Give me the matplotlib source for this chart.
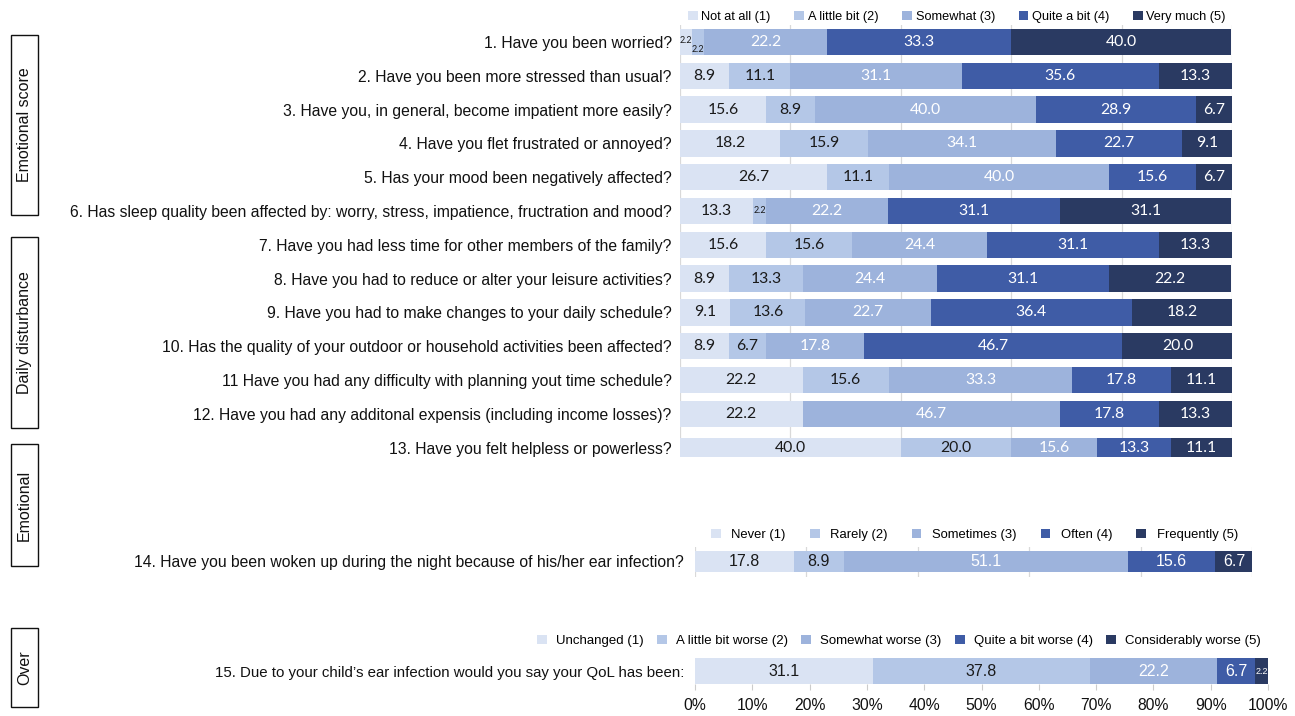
import matplotlib
matplotlib.use("Agg")
import matplotlib.pyplot as plt
from matplotlib.patches import Rectangle
import numpy as np

# ---------------- data ----------------
questions_top = [
    "1. Have you been worried?",
    "2. Have you been more stressed than usual?",
    "3. Have you, in general, become impatient more easily?",
    "4. Have you flet frustrated or annoyed?",
    "5. Has your mood been negatively affected?",
    "6. Has sleep quality been affected by: worry, stress, impatience, fructration and mood?",
    "7. Have you had less time for other members of the family?",
    "8. Have you had to reduce or alter your leisure activities?",
    "9. Have you had to make changes to your daily schedule?",
    "10. Has the quality of your outdoor or household activities been affected?",
    "11 Have you had any difficulty with planning yout time schedule?",
    "12. Have you had any additonal expensis (including income losses)?",
    "13. Have you felt helpless or powerless?",
]
legend_top = ["Not at all (1)", "A little bit (2)", "Somewhat (3)", "Quite a bit (4)", "Very much (5)"]
not_at_all = [2.2, 8.9, 15.6, 18.2, 26.7, 13.3, 15.6, 8.9, 9.1, 8.9, 22.2, 22.2, 40.0]
a_little   = [2.2, 11.1, 8.9, 15.9, 11.1, 2.2, 15.6, 13.3, 13.6, 6.7, 15.6, 0.0, 20.0]
somewhat   = [22.2, 31.1, 40.0, 34.1, 40.0, 22.2, 24.4, 24.4, 22.7, 17.8, 33.3, 46.7, 15.6]
quite_bit  = [33.3, 35.6, 28.9, 22.7, 15.6, 31.1, 31.1, 31.1, 36.4, 46.7, 17.8, 17.8, 13.3]
very_much  = [40.0, 13.3, 6.7, 9.1, 6.7, 31.1, 13.3, 22.2, 18.2, 20.0, 11.1, 13.3, 11.1]

question_mid = "14. Have you been woken up during the night because of his/her ear infection?"
legend_mid = ["Never (1)", "Rarely (2)", "Sometimes (3)", "Often (4)", "Frequently (5)"]
values_mid = [17.8, 8.9, 51.1, 15.6, 6.7]

question_bot = "15. Due to your child\u2019s ear infection would you say your QoL has been:"
legend_bot = ["Unchanged (1)", "A little bit worse (2)", "Somewhat worse (3)",
              "Quite a bit worse (4)", "Considerably worse (5)"]
values_bot = [31.1, 37.8, 22.2, 6.7, 2.2]

x_ticks = [0, 10, 20, 30, 40, 50, 60, 70, 80, 90, 100]
x_tick_labels = ["0%", "10%", "20%", "30%", "40%", "50%", "60%", "70%", "80%", "90%", "100%"]

section_labels = ["Emotional score", "Daily disturbance", "Emotional", "Over"]

# ---------------- style ----------------
colors = ["#dae3f3", "#b4c7e7", "#9db3dc", "#3f5ca6", "#2a3a62"]
text_colors = ["#1a1a1a", "#1a1a1a", "white", "white", "white"]
SANS = "Liberation Sans"
VALFONT = "Lato"
QSIZE = 11.3

W, H = 1295, 716
fig = plt.figure(figsize=(W / 100, H / 100), dpi=100)
fig.patch.set_facecolor("white")


def px_axes(x0, x1, y0, y1):
    return fig.add_axes([x0 / W, 1 - y1 / H, (x1 - x0) / W, (y1 - y0) / H])


# ---------------- top section ----------------
ax1 = px_axes(680, 1232, 25.1, 457)
n = len(questions_top)
ypos = np.arange(n)
heights = [0.78] * (n - 1) + [0.56]
series_top = [not_at_all, a_little, somewhat, quite_bit, very_much]

left = np.zeros(n)
for k, vals in enumerate(series_top):
    vals = np.asarray(vals, dtype=float)
    ax1.barh(ypos, vals, left=left, height=heights, color=colors[k],
             edgecolor="none", zorder=2, label=legend_top[k])
    for i, v in enumerate(vals):
        if v <= 0:
            continue
        cx = left[i] + v / 2
        cy = ypos[i]
        fs = 11.3
        if v < 3:
            fs = 6.5
            if i == 0:
                cy = cy - 0.05 if k == 0 else cy + 0.22
        ax1.text(cx, cy, f"{v:.1f}", ha="center", va="center",
                 color=text_colors[k], fontsize=fs, family=VALFONT, zorder=3)
    left = left + vals

ax1.set_xlim(0, 100)
ax1.set_ylim(12.28, -0.5)
ax1.set_yticks(ypos)
ax1.set_yticklabels(questions_top, fontsize=QSIZE, family=SANS, color="#111111")
ax1.tick_params(axis="y", length=0, pad=6)
ax1.set_xticks([0, 20, 40, 60, 80, 100])
ax1.tick_params(axis="x", length=0, labelbottom=False)
ax1.grid(axis="x", color="#d9d9d9", linewidth=0.9, zorder=0)
ax1.set_axisbelow(True)
for s in ax1.spines.values():
    s.set_visible(False)
ax1.legend(loc="center left", bbox_to_anchor=((688 - 680) / 552, 1 + (25.1 - 17) / 431.9),
           ncol=5, frameon=False, prop={"family": SANS, "size": 9.2},
           handlelength=0.75, handleheight=0.75, handletextpad=0.3,
           columnspacing=1.85, borderaxespad=0.0, borderpad=0.0)

# ---------------- middle section ----------------
ax2 = px_axes(695, 1252, 546.5, 576.5)
left = 0.0
for k, v in enumerate(values_mid):
    ax2.barh([0], [v], left=left, height=0.7, color=colors[k], edgecolor="none",
             zorder=2, label=legend_mid[k])
    ax2.text(left + v / 2, 0, f"{v:.1f}", ha="center", va="center",
             color=text_colors[k], fontsize=11.5, family=SANS, zorder=3)
    left += v
ax2.set_xlim(0, 100)
ax2.set_ylim(0.5, -0.5)
ax2.set_yticks([0])
ax2.set_yticklabels([question_mid], fontsize=QSIZE, family=SANS, color="#111111")
ax2.tick_params(axis="y", length=0, pad=8)
ax2.set_xticks([0, 20, 40, 60, 80, 100])
ax2.tick_params(axis="x", length=0, labelbottom=False)
ax2.grid(axis="x", color="#d9d9d9", linewidth=0.9, zorder=0)
ax2.set_axisbelow(True)
for s in ax2.spines.values():
    s.set_visible(False)
ax2.legend(loc="center left", bbox_to_anchor=((711 - 695) / 557, 1 + (546.5 - 535) / 30),
           ncol=5, frameon=False, prop={"family": SANS, "size": 9.4},
           handlelength=0.75, handleheight=0.75, handletextpad=0.8,
           columnspacing=1.85, borderaxespad=0.0, borderpad=0.0)

# ---------------- bottom section ----------------
ax3 = px_axes(695, 1268, 655, 684)
left = 0.0
for k, v in enumerate(values_bot):
    ax3.barh([0], [v], left=left, height=0.8, color=colors[k], edgecolor="none",
             zorder=2, label=legend_bot[k])
    ax3.text(left + v / 2, 0, f"{v:.1f}", ha="center", va="center",
             color=text_colors[k], fontsize=11.5 if v >= 3 else 6.5, family=SANS, zorder=3)
    left += v
ax3.set_xlim(0, 100)
ax3.set_ylim(-0.4, 0.5)
ax3.set_yticks([0])
ax3.set_yticklabels([question_bot], fontsize=10.8, family=SANS, color="#111111")
ax3.tick_params(axis="y", length=0, pad=8)
ax3.set_xticks(x_ticks)
ax3.set_xticklabels(x_tick_labels, fontsize=11.3, family=SANS, color="#111111")
ax3.tick_params(axis="x", length=4, color="#cccccc", width=0.8, pad=6)
for s in ax3.spines.values():
    s.set_visible(False)
ax3.legend(loc="center left", bbox_to_anchor=((537 - 695) / 573, 1 + (655 - 641) / 29),
           ncol=5, frameon=False, prop={"family": SANS, "size": 9.5},
           handlelength=0.75, handleheight=0.75, handletextpad=0.7,
           columnspacing=1.0, borderaxespad=0.0, borderpad=0.0)

# ---------------- section boxes ----------------
boxes = [(35, 215), (237, 428), (444, 566), (628, 707)]
for (y0, y1), lab in zip(boxes, section_labels):
    fig.patches.append(Rectangle((11 / W, 1 - y1 / H), 27 / W, (y1 - y0) / H,
                                 transform=fig.transFigure, facecolor="white",
                                 edgecolor="#111111", linewidth=1.0))
    fig.text(24.5 / W, 1 - (y0 + y1) / 2 / H, lab, rotation=90, ha="center", va="center",
             fontsize=11.5, family=SANS, color="#111111")

fig.savefig("out.png", dpi=100, facecolor="white")
